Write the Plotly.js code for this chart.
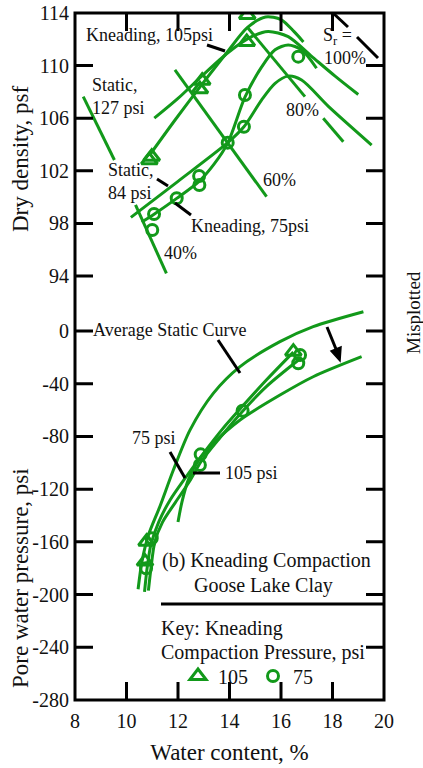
<!DOCTYPE html>
<html>
<head>
<meta charset="utf-8">
<script src="https://cdn.plot.ly/plotly-3.0.1.min.js"></script>
<style>
  html, body { margin: 0; padding: 0; background: #ffffff; }
  #chart { width: 423px; height: 768px; }
</style>
</head>
<body>
<div id="chart"></div>
<script>
// ---- axis ticks ----
const waterTicks = [8, 10, 12, 14, 16, 18, 20];
const densityTicks = [94, 98, 102, 106, 110, 114];
const pressureTicks = [-280, -240, -200, -160, -120, -80, -40, 0];
const pressureTickText = ['-280', '-240', '-200', '-160', '-120', '-80', '-40', '0'];

// ---- upper panel: dry density (psf) vs water content (%) ----
// kneading compaction test points
const k105PtsW = [14.69, 14.67, 12.94, 12.85, 10.98, 10.89];
const k105PtsD = [113.85, 111.8, 108.85, 108.2, 103.07, 102.8];
const k75PtsW = [16.67, 14.6, 14.56, 13.93, 12.82, 12.83, 11.95, 11.07, 11.0];
const k75PtsD = [110.68, 107.76, 105.35, 104.14, 101.6, 100.92, 99.91, 98.71, 97.5];

// compaction curves
const k105CurveW = [10.9, 11.9, 12.9, 13.9, 14.7, 15.4, 16.0, 16.5, 16.87];
const k105CurveD = [103.2, 105.9, 108.5, 111.0, 112.9, 113.7, 113.5, 112.6, 111.8];
const s127CurveW = [11.08, 12.0, 12.92, 13.95, 14.86, 15.5, 16.28, 17.19, 18.1, 19.0];
const s127CurveD = [106.0, 107.5, 109.2, 111.0, 112.2, 112.6, 112.2, 110.7, 109.2, 107.8];
const k75CurveW = [10.59, 11.07, 11.95, 12.82, 13.4, 13.93, 14.6, 15.25, 15.77, 16.28, 16.8, 17.38];
const k75CurveD = [98.1, 98.7, 99.9, 101.2, 102.5, 104.1, 107.6, 109.9, 111.2, 111.57, 111.2, 109.8];
const s84CurveW = [10.17, 12.0, 13.93, 14.56, 15.25, 15.77, 16.28, 16.8, 17.84, 19.52];
const s84CurveD = [98.46, 101.2, 104.14, 105.35, 107.4, 108.65, 109.2, 108.9, 106.9, 103.96];

// degree-of-saturation lines
const sat40W = [10.35, 11.55];
const sat40D = [99.4, 94.2];
const sat60W = [11.88, 15.44];
const sat60D = [109.67, 100.03];
const sat80W = [14.7, 16.93];
const sat80D = [112.9, 107.64];
const sat80bW = [17.64, 18.42];
const sat80bD = [105.99, 104.21];
const strayW = [8.32, 9.53];
const strayD = [107.64, 102.82];

// ---- lower panel: pore water pressure (psi) vs water content (%) ----
const k105PoreW = [10.78, 10.72, 16.48];
const k105PoreP = [-159.9, -175, -15.7];
const k75PoreW = [10.98, 10.76, 12.88, 12.85, 14.51, 16.74, 16.67];
const k75PoreP = [-157.3, -180, -93.6, -101.7, -60.5, -18.2, -24.5];

const avgStaticW = [10.45, 10.6, 10.85, 11.3, 11.82, 12.47, 13.37, 14.41, 15.96, 17.25, 19.2];
const avgStaticP = [-196, -175, -155, -133, -105.5, -75, -47.3, -27, -8.1, 3.3, 14.6];
const shiftedW = [12.0, 12.15, 12.4, 12.8, 13.37, 14.41, 15.96, 17.25, 19.13];
const shiftedP = [-145, -130, -113, -98, -85.2, -67.5, -48.6, -34.7, -19.5];
const k105PoreCurveW = [10.7, 10.8, 10.95, 11.25, 11.7, 12.3, 12.98, 13.7, 14.51, 15.44, 16.48];
const k105PoreCurveP = [-198, -180, -162, -145, -128, -111, -93, -75, -57, -37, -16];
const k75PoreCurveW = [10.85, 10.95, 11.1, 11.4, 11.9, 12.45, 12.9, 13.63, 14.5, 15.44, 16.68];
const k75PoreCurveP = [-197, -180, -160, -145, -130, -114, -99, -81, -61, -42, -22];

// ---- drawing ----
const GREEN = '#12991a';
const FONT = 'Liberation Serif, Times New Roman, serif';

// plot area in pixels: left 75, right 384, top 13, bottom 700
const W0 = 75, W1 = 384, H0 = 13, H1 = 700;
const PX = x => (x - W0) / (W1 - W0);
const PY = y => (H1 - y) / (H1 - H0);
const SPLIT = PY(300);
const X_RANGE = [8, 20];
const D_RANGE = [114 - 287 / 13.15, 114];
const P_RANGE = [-280, 31 / 1.318];

function curve(x, y, yaxis, smooth) {
  return {
    x: x, y: y, xaxis: 'x', yaxis: yaxis, type: 'scatter', mode: 'lines',
    line: { color: GREEN, width: 3, shape: smooth ? 'spline' : 'linear', smoothing: 0.8 },
    showlegend: false, hoverinfo: 'skip'
  };
}
function pts(x, y, yaxis, symbol, size, name, legend) {
  return {
    x: x, y: y, xaxis: 'x', yaxis: yaxis, type: 'scatter', mode: 'markers', name: name,
    marker: { symbol: symbol, size: size, color: GREEN, line: { color: GREEN, width: 3 } },
    showlegend: legend, hoverinfo: 'skip'
  };
}

const traces = [
  curve(k105CurveW, k105CurveD, 'y', true),
  curve(s127CurveW, s127CurveD, 'y', true),
  curve(k75CurveW, k75CurveD, 'y', true),
  curve(s84CurveW, s84CurveD, 'y', true),
  curve(sat40W, sat40D, 'y', false),
  curve(sat60W, sat60D, 'y', false),
  curve(sat80W, sat80D, 'y', false),
  curve(sat80bW, sat80bD, 'y', false),
  curve(strayW, strayD, 'y', false),
  curve(avgStaticW, avgStaticP, 'y2', true),
  curve(shiftedW, shiftedP, 'y2', true),
  curve(k105PoreCurveW, k105PoreCurveP, 'y2', true),
  curve(k75PoreCurveW, k75PoreCurveP, 'y2', true),
  pts(k105PtsW, k105PtsD, 'y', 'triangle-up-open', 14, '105', true),
  pts(k75PtsW, k75PtsD, 'y', 'circle-open', 11, '75', true),
  pts(k105PoreW, k105PoreP, 'y2', 'triangle-up-open', 14, '105', false),
  pts(k75PoreW, k75PoreP, 'y2', 'circle-open', 11, '75', false)
];

function lab(text, x, y, size, extra) {
  return Object.assign({
    text: text, xref: 'paper', yref: 'paper', x: PX(x), y: PY(y),
    xanchor: 'left', yanchor: 'middle', showarrow: false, align: 'left',
    font: { family: FONT, size: size, color: '#111111' }
  }, extra || {});
}
function seg(x0, y0, x1, y1) {
  return {
    type: 'line', xref: 'paper', yref: 'paper',
    x0: PX(x0), y0: PY(y0), x1: PX(x1), y1: PY(y1),
    line: { color: '#000000', width: 3 }
  };
}
function headPath(p) {
  return 'M ' + p.map(q => PX(q[0]) + ',' + PY(q[1])).join(' L ') + ' Z';
}

const annotations = [
  lab('Dry density, psf', 20, 159, 23, { xanchor: 'center', textangle: -90 }),
  lab('Pore water pressure, psi', 20, 578, 23, { xanchor: 'center', textangle: -90 }),
  lab('Kneading, 105psi', 84, 35, 18),
  lab('Static,<br>127 psi', 90, 96, 18),
  lab('Static,<br>84 psi', 106, 181, 18),
  lab('Kneading, 75psi', 189, 226, 18),
  lab('60%', 261, 180, 18),
  lab('40%', 162, 253, 18),
  lab('80%', 284, 110, 18),
  lab('S<sub>r</sub> =', 321, 37, 18),
  lab('100%', 322, 58, 18),
  lab('Misplotted', 413, 313, 19, { xanchor: 'center', textangle: -90 }),
  lab('Average Static Curve', 91, 330, 18),
  lab('75 psi', 130, 438, 18),
  lab('105 psi', 223, 473, 18),
  lab('(b) Kneading Compaction', 160, 560, 20),
  lab('Goose Lake Clay', 192, 585, 20),
  lab('Key: Kneading', 159, 628, 20),
  lab('Compaction Pressure, psi', 159, 652, 20)
];

// inward tick marks on all four sides of the frame, as one path (pixel space -> paper)
const TICK = 18;
const xTickPx = w => W0 + (w - X_RANGE[0]) / (X_RANGE[1] - X_RANGE[0]) * (W1 - W0);
const dTickPx = d => 300 - (d - D_RANGE[0]) / (D_RANGE[1] - D_RANGE[0]) * (300 - H0);
const pTickPx = p => H1 - (p - P_RANGE[0]) / (P_RANGE[1] - P_RANGE[0]) * (H1 - 300);
let tickPath = '';
function tickSeg(x0, y0, x1, y1) {
  tickPath += 'M ' + PX(x0) + ',' + PY(y0) + ' L ' + PX(x1) + ',' + PY(y1) + ' ';
}
waterTicks.slice(1, -1).forEach(w => {
  const x = xTickPx(w);
  tickSeg(x, H1, x, H1 - TICK);
  tickSeg(x, H0, x, H0 + TICK);
});
densityTicks.slice(0, -1).forEach(d => {
  const y = dTickPx(d);
  tickSeg(W0, y, W0 + TICK, y);
  tickSeg(W1, y, W1 - TICK, y);
});
pressureTicks.slice(1).forEach(p => {
  const y = pTickPx(p);
  tickSeg(W0, y, W0 + TICK, y);
  tickSeg(W1, y, W1 - TICK, y);
});

const shapes = [
  { type: 'rect', xref: 'paper', yref: 'paper', x0: 0, y0: 0, x1: 1, y1: 1,
    fillcolor: 'rgba(0,0,0,0)', line: { color: '#000000', width: 3 } },
  { type: 'path', xref: 'paper', yref: 'paper', path: tickPath,
    fillcolor: 'rgba(0,0,0,0)', line: { color: '#000000', width: 3 } },
  seg(207, 45, 225, 51),
  seg(157, 179, 168, 186),
  seg(175, 203, 191, 215),
  seg(333, 13, 348, 27),
  seg(357, 37, 378, 58),
  seg(218, 340, 240, 373),
  seg(170, 452, 185, 478),
  seg(193, 473, 220, 473),
  seg(161, 604, 384, 604),
  // arrow between the two static curves
  seg(327, 327, 338, 354),
  { type: 'path', xref: 'paper', yref: 'paper',
    path: headPath([[340, 361], [341, 347], [331, 351]]),
    fillcolor: '#000000', line: { color: '#000000', width: 1.5 } }
];

const axisCommon = {
  ticks: '', showgrid: false, zeroline: false, showline: false,
  tickfont: { family: FONT, size: 20, color: '#111111' }
};

const layout = {
  width: 423, height: 768,
  margin: { l: 75, r: 39, t: 13, b: 68, pad: 0 },
  paper_bgcolor: '#ffffff', plot_bgcolor: '#ffffff',
  font: { family: FONT, color: '#111111' },
  showlegend: true,
  legend: {
    orientation: 'h', x: PX(178), y: PY(676), xanchor: 'left', yanchor: 'middle',
    font: { family: FONT, size: 20, color: '#111111' }, bgcolor: 'rgba(0,0,0,0)',
    tracegroupgap: 0
  },
  xaxis: Object.assign({}, axisCommon, {
    range: X_RANGE, anchor: 'y2', tickvals: waterTicks,
    ticklabelstandoff: 7,
    title: { text: 'Water content, %', font: { family: FONT, size: 23, color: '#111111' }, standoff: 12 }
  }),
  yaxis: Object.assign({}, axisCommon, {
    domain: [SPLIT, 1], range: D_RANGE, anchor: 'x',
    tickvals: densityTicks, ticklabelstandoff: 5
  }),
  yaxis2: Object.assign({}, axisCommon, {
    domain: [0, SPLIT], range: P_RANGE, anchor: 'x',
    tickvals: pressureTicks, ticktext: pressureTickText, ticklabelstandoff: 5
  }),
  annotations: annotations,
  shapes: shapes
};

Plotly.newPlot('chart', traces, layout, { displayModeBar: false, staticPlot: true });
</script>
</body>
</html>
